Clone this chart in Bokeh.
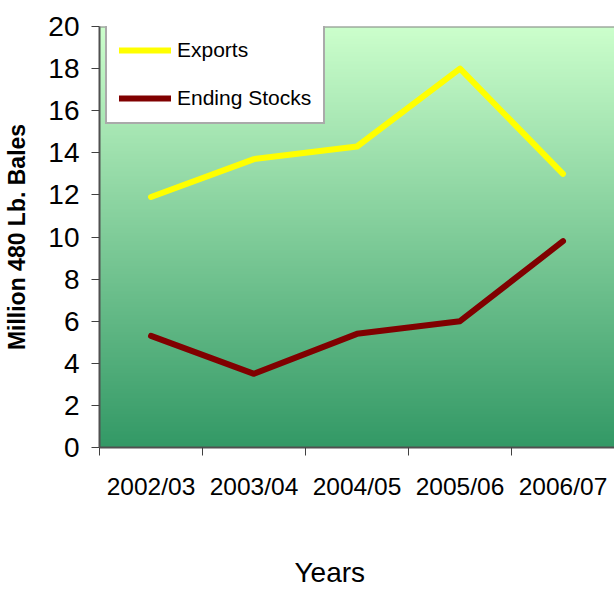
import numpy as np
from bokeh.plotting import figure
from bokeh.models import Range1d, FixedTicker, Span
from bokeh.embed import file_html
from bokeh.resources import INLINE

categories = ["2002/03", "2003/04", "2004/05", "2005/06", "2006/07"]
exports = [11.9, 13.7, 14.3, 18.0, 13.0]
ending_stocks = [5.3, 3.5, 5.4, 6.0, 9.8]
y_ticks = [0, 2, 4, 6, 8, 10, 12, 14, 16, 18, 20]

FONT = "Liberation Sans"
n_cat = len(categories)
xs = [i + 0.5 for i in range(n_cat)]

p = figure(width=614, height=591, output_backend="svg", toolbar_location=None,
           x_range=Range1d(0, n_cat), y_range=Range1d(0, 20),
           min_border_left=99, min_border_top=26, min_border_right=0,
           min_border_bottom=144)
p.outline_line_color = None
p.grid.visible = False
p.background_fill_color = "white"
p.border_fill_color = "white"

# gradient background of plot area
n = 256
t = np.linspace(0.0, 1.0, n)
bottom_c = np.array([51, 153, 102], dtype=float)
top_c = np.array([204, 255, 204], dtype=float)
cols = bottom_c + (top_c - bottom_c) * t[:, None]
img = np.empty((n, 1), dtype=np.uint32)
view = img.view(dtype=np.uint8).reshape((n, 1, 4))
view[:, 0, 0] = cols[:, 0].astype(np.uint8)
view[:, 0, 1] = cols[:, 1].astype(np.uint8)
view[:, 0, 2] = cols[:, 2].astype(np.uint8)
view[:, 0, 3] = 255
p.image_rgba(image=[img], x=0, y=0, dw=n_cat, dh=20)

p.add_layout(Span(location=20, dimension="width", line_color="#808080", line_width=2))

p.line(xs, exports, line_color="#FFFF00", line_width=6, line_cap="round",
       line_join="round", legend_label="Exports")
p.line(xs, ending_stocks, line_color="#800000", line_width=6, line_cap="round",
       line_join="round", legend_label="Ending Stocks")

# y axis
ya = p.yaxis[0]
ya.ticker = FixedTicker(ticks=y_ticks)
ya.major_label_text_font = FONT
ya.major_label_text_font_size = "28px"
ya.major_label_text_color = "black"
ya.major_tick_out = 8
ya.major_tick_in = 0
ya.minor_tick_out = 0
ya.minor_tick_in = 0
ya.major_tick_line_color = "#404040"
ya.axis_line_color = "#505050"
ya.axis_line_width = 2
ya.major_label_standoff = 12
ya.axis_label = "Million 480 Lb. Bales"
ya.axis_label_text_font = FONT
ya.axis_label_text_font_style = "bold"
ya.axis_label_text_font_size = "23px"
ya.axis_label_text_color = "black"
ya.axis_label_standoff = 15

# x axis
xa = p.xaxis[0]
xa.ticker = FixedTicker(ticks=xs, minor_ticks=list(range(n_cat + 1)))
xa.major_label_overrides = {x: c for x, c in zip(xs, categories)}
xa.major_label_text_font = FONT
xa.major_label_text_font_size = "24.5px"
xa.major_label_text_color = "black"
xa.major_tick_out = 0
xa.major_tick_in = 0
xa.minor_tick_out = 8
xa.minor_tick_in = 0
xa.minor_tick_line_color = "#404040"
xa.axis_line_color = "#505050"
xa.axis_line_width = 2
xa.major_label_standoff = 17
# trailing no-break spaces shift the centred title left, as in the reference
xa.axis_label = "Years" + "\u00a0" * 7
xa.axis_label_text_font = FONT
xa.axis_label_text_font_size = "28px"
xa.axis_label_text_font_style = "normal"
xa.axis_label_text_color = "black"
xa.axis_label_standoff = 54

lg = p.legend[0]
lg.location = (6, 323)
lg.margin = 0
lg.padding = 12
lg.spacing = 24
lg.label_height = 24
lg.glyph_height = 24
lg.glyph_width = 52
lg.label_standoff = 6
lg.label_text_font = FONT
lg.label_text_font_size = "21px"
lg.label_text_color = "black"
lg.border_line_color = "#555555"
lg.border_line_width = 2
lg.background_fill_color = "white"
lg.background_fill_alpha = 1.0

open("out.html", "w").write(file_html(p, INLINE))
